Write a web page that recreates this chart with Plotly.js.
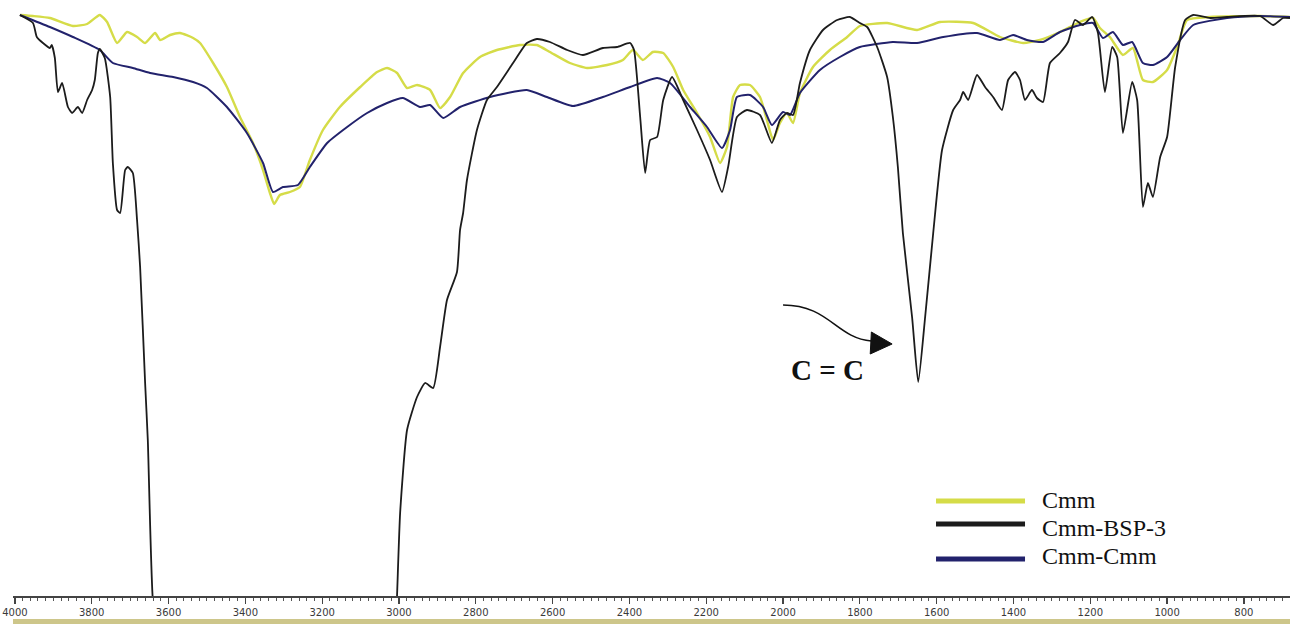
<!DOCTYPE html>
<html>
<head>
<meta charset="utf-8">
<script src="https://cdn.plot.ly/plotly-3.0.1.min.js"></script>
<style>html,body{margin:0;padding:0;background:#fff;}#chart{width:1290px;height:624px;}</style>
</head>
<body>
<div id="chart"></div>
<script>
// Series names
const seriesNames = ["Cmm", "Cmm-BSP-3", "Cmm-Cmm"];

// Cmm (yellow)
const cmmWn = [3987,3953,3909,3849,3812,3779,3760,3734,3708,3682,3661,3635,3622,3596,3570,3536,3518,3484,3448,3414,3380,3354,3336,3325,3310,3284,3258,3232,3198,3154,3101,3057,3031,3005,2979,2953,2919,2893,2867,2833,2789,2745,2685,2641,2607,2555,2510,2458,2417,2391,2365,2339,2312,2286,2260,2224,2190,2164,2146,2130,2112,2086,2060,2042,2026,2008,1990,1974,1956,1922,1878,1833,1800,1729,1651,1591,1505,1435,1375,1331,1279,1227,1193,1175,1149,1115,1089,1063,1037,1000,974,948,888,758,680];
const cmmT = [58.1,58.0,57.8,57.0,57.2,58.1,57.4,55.3,56.4,55.9,55.3,56.3,55.6,56.1,56.3,55.8,55.3,53.3,50.9,47.9,45.3,42.6,40.3,39.2,40.1,40.4,40.9,43.6,46.6,48.9,50.9,52.4,52.8,52.3,50.8,51.1,50.6,48.8,49.9,52.3,53.9,54.6,55.1,55.1,54.4,53.3,52.8,53.1,53.6,54.6,53.6,54.4,54.3,52.9,50.6,48.3,45.9,43.3,44.9,49.9,51.1,51.1,49.9,47.6,45.6,47.3,48.3,47.3,50.3,52.9,54.6,55.9,57.0,57.3,56.6,57.4,57.3,55.9,55.3,55.6,56.4,57.4,57.8,56.8,55.9,54.1,54.8,51.6,51.4,52.6,54.9,57.6,57.9,58.0,57.9];

// Cmm-Cmm (navy)
const cmmCmmWn = [3987,3909,3849,3779,3745,3693,3648,3588,3536,3500,3448,3396,3354,3328,3302,3263,3232,3187,3135,3083,3031,2990,2945,2919,2885,2841,2763,2667,2615,2547,2469,2398,2328,2294,2242,2198,2159,2138,2120,2086,2052,2029,2000,1982,1956,1904,1852,1800,1714,1651,1583,1495,1435,1401,1365,1323,1279,1227,1193,1167,1141,1115,1091,1063,1037,1000,966,932,844,758,680];
const cmmCmmT = [58.1,56.9,55.9,54.6,53.3,52.8,52.3,51.9,51.4,50.8,48.9,46.3,43.3,40.4,40.9,41.1,42.9,45.3,46.9,48.3,49.3,49.8,48.9,49.1,47.8,48.9,49.9,50.6,49.9,49.0,49.9,50.9,51.8,51.3,48.9,46.9,44.8,46.6,49.9,50.1,48.9,47.1,48.4,48.1,50.3,52.6,53.9,54.9,55.4,55.3,55.9,56.3,55.6,56.1,55.6,55.4,56.4,57.1,57.3,55.8,56.4,55.1,55.4,53.3,53.1,53.9,55.6,57.1,57.8,58.0,57.9];

// Cmm-BSP-3 (black)
const bspWn = [3987,3953,3943,3927,3909,3904,3896,3888,3877,3862,3851,3836,3825,3812,3799,3792,3784,3779,3766,3752,3745,3734,3726,3713,3706,3693,3682,3674,3661,3654,3641,3600,3300,3016,3005,2997,2979,2953,2932,2911,2893,2875,2849,2841,2833,2823,2797,2771,2745,2703,2667,2641,2607,2562,2521,2469,2432,2398,2388,2372,2359,2346,2328,2312,2289,2260,2224,2190,2159,2143,2120,2094,2060,2029,2008,1990,1974,1956,1930,1896,1859,1826,1800,1781,1755,1729,1714,1701,1688,1664,1648,1630,1609,1586,1557,1539,1531,1518,1495,1474,1453,1430,1414,1396,1383,1370,1352,1339,1323,1305,1279,1258,1240,1219,1195,1180,1162,1143,1130,1115,1091,1078,1063,1050,1037,1018,1000,979,953,932,888,844,758,724,698,680];
const bspT = [58.1,57.3,55.9,55.3,54.8,55.1,53.8,50.4,51.3,48.9,48.3,48.9,48.3,49.6,50.6,51.6,54.3,54.7,53.8,49.9,43.3,38.6,38.3,42.6,42.9,42.3,37.6,32.9,21.3,15.6,-0.4,-15,-25,-10.4,0.1,8.3,16.6,19.9,21.3,20.8,24.9,29.6,32.4,36.6,38.3,41.6,46.6,49.6,50.9,53.3,55.3,55.7,55.4,54.6,54.1,54.8,54.9,55.3,54.6,47.9,42.3,45.6,45.9,49.6,51.9,49.6,46.6,43.6,40.4,42.9,47.9,48.6,48.1,45.3,47.6,48.3,48.1,51.3,54.6,56.6,57.6,57.9,57.3,56.9,54.9,51.9,47.9,42.9,36.3,27.9,21.4,27.9,36.3,44.6,48.6,49.6,50.4,49.6,52.1,50.9,49.9,48.6,51.6,52.4,51.6,49.6,50.6,49.8,49.4,53.3,54.3,55.4,57.6,57.1,57.9,56.3,50.4,54.9,53.9,46.3,51.4,49.6,38.9,41.3,39.9,43.9,45.9,52.9,57.6,58.1,57.8,57.9,58.0,57.1,57.8,57.8];

const colors = {cmm: "#d5dc48", bsp: "#1c1c1c", cmmCmm: "#22226c"};

const lineShape = {shape: "spline", smoothing: 0.5};
const traces = [
  {x: cmmWn, y: cmmT, name: seriesNames[0], type: "scatter", mode: "lines",
   line: Object.assign({color: colors.cmm, width: 2.4}, lineShape)},
  {x: cmmCmmWn, y: cmmCmmT, name: seriesNames[2], type: "scatter", mode: "lines",
   line: Object.assign({color: colors.cmmCmm, width: 2}, lineShape)},
  {x: bspWn, y: bspT, name: seriesNames[1], type: "scatter", mode: "lines",
   line: Object.assign({color: colors.bsp, width: 1.8}, lineShape)}
];

// legend drawn as shapes + text (paper coords)
const legendItems = [
  {name: seriesNames[0], color: colors.cmm, ly: 0.1594, ty: 0.1611},
  {name: seriesNames[1], color: colors.bsp, ly: 0.1208, ty: 0.1141},
  {name: seriesNames[2], color: colors.cmmCmm, ly: 0.0621, ty: 0.0671}
];

const shapes = legendItems.map(it => ({
  type: "line", xref: "paper", yref: "paper",
  x0: 0.7228, x1: 0.7925, y0: it.ly, y1: it.ly,
  line: {color: it.color, width: 5}
}));
// bottom band
shapes.push({type: "rect", xref: "paper", yref: "paper", x0: 0, x1: 1, y0: -0.047, y1: -0.0386,
  line: {width: 0}, fillcolor: "#cdc68a", layer: "below"});
// curved arrow to C=C band
shapes.push({type: "path", xref: "x", yref: "y",
  path: "M 2000 29.1 C 1880 29.1, 1862 25.8, 1770 25.5",
  line: {color: "#111", width: 1.6}});
shapes.push({type: "path", xref: "x", yref: "y",
  path: "M 1716 25.2 L 1770 26.4 L 1773 24.2 Z",
  fillcolor: "#111", line: {color: "#111", width: 1}});

const annotations = legendItems.map(it => ({
  xref: "paper", yref: "paper", x: 0.8042, y: it.ty, xanchor: "left", yanchor: "middle",
  text: it.name, showarrow: false,
  font: {family: "Liberation Serif, Times New Roman, serif", size: 24, color: "#111"}
}));
annotations.push({xref: "x", yref: "y", x: 1885, y: 22.6, xanchor: "center", yanchor: "middle",
  text: "<b>C = C</b>", showarrow: false,
  font: {family: "Liberation Serif, Times New Roman, serif", size: 29, color: "#111"}});

const layout = {
  width: 1290, height: 624,
  margin: {l: 13, r: 0, t: 0, b: 28, pad: 0},
  paper_bgcolor: "#fff", plot_bgcolor: "#fff",
  showlegend: false,
  xaxis: {
    range: [4005, 680], autorange: false,
    showgrid: false, zeroline: false,
    showline: true, linecolor: "#444", linewidth: 1.5,
    ticks: "outside", ticklen: 6, tickwidth: 1.3, tickcolor: "#444",
    dtick: 200, tick0: 0,
    minor: {dtick: 20, ticks: "outside", ticklen: 3.5, tickwidth: 1, tickcolor: "#555"},
    tickfont: {family: "DejaVu Sans, Verdana, sans-serif", size: 10, color: "#3a3a3a"},
    fixedrange: true
  },
  yaxis: {
    range: [0, 59.6], autorange: false, visible: false, fixedrange: true
  },
  shapes: shapes,
  annotations: annotations
};

Plotly.newPlot("chart", traces, layout, {displayModeBar: false, staticPlot: true});
</script>
</body>
</html>
